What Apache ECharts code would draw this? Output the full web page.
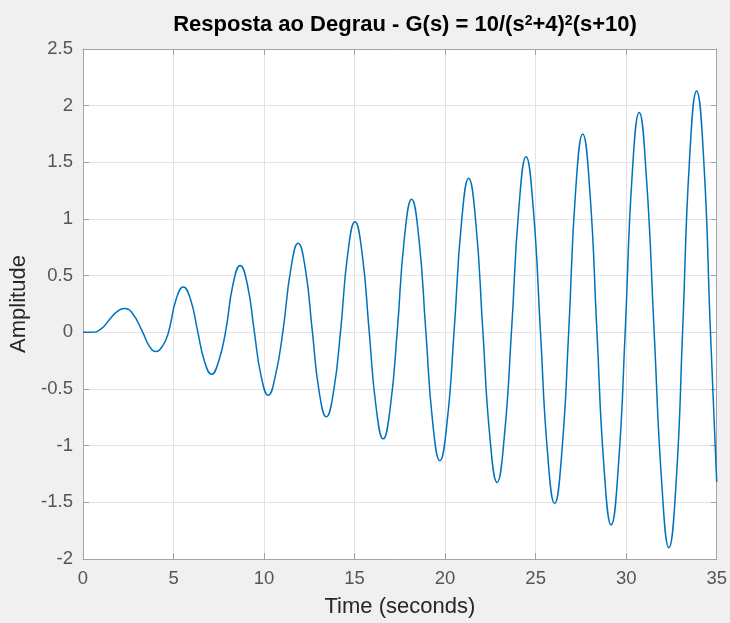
<!DOCTYPE html>
<html lang="pt">
<head>
    <meta charset="UTF-8">
    <title>Resposta ao Degrau</title>
    <style>
        html, body {
            margin: 0;
            height: 100%;
            background: #f0f0f0;
        }
        #main {
            width: 730px;
            height: 623px;
        }
    </style>
    <script src="https://cdn.jsdelivr.net/npm/echarts@6/dist/echarts.min.js"></script>
</head>
<body>
    <div id="main"></div>
    <script>
        // tempo (s) e amplitude: picos, vales, flancos e cruzamentos
        const tempo = [
            0, 0.5, 1.0, 1.5, 1.9, 2.29, 2.7, 3.3, 3.62, 4.0, 4.4, 4.72,
            5.14, 5.54, 5.94, 6.32, 6.7, 7.1, 7.5, 7.89,
            8.28, 8.68, 9.08, 9.45, 9.83, 10.23, 10.63, 11.05,
            11.48, 11.88, 12.28, 12.66, 13.04, 13.44, 13.84, 14.23,
            14.62, 15.02, 15.42, 15.8, 16.18, 16.58, 16.98, 17.36,
            17.75, 18.15, 18.55, 18.93, 19.31, 19.71, 20.11, 20.5,
            20.9, 21.3, 21.7, 22.08, 22.47, 22.87, 23.27, 23.67,
            24.07, 24.47, 24.87, 25.26, 25.65, 26.05, 26.45, 26.83,
            27.2, 27.6, 28.0, 28.38, 28.77, 29.17, 29.57, 29.95,
            30.32, 30.72, 31.12, 31.54, 31.96, 32.36, 32.76, 33.12,
            33.49, 33.89, 34.29, 34.65, 35
        ]
        const amplitude = [
            0, 0.001, 0.03, 0.12, 0.185, 0.21, 0.175, 0, -0.11, -0.17, -0.12, 0,
            0.29, 0.40, 0.29, 0.02, -0.25, -0.37, -0.25, 0.02,
            0.42, 0.59, 0.42, 0.02, -0.38, -0.555, -0.38, 0.02,
            0.56, 0.785, 0.56, 0.02, -0.52, -0.745, -0.52, 0.02,
            0.69, 0.976, 0.69, 0.02, -0.65, -0.94, -0.65, 0.02,
            0.83, 1.174, 0.83, 0.02, -0.79, -1.133, -0.79, 0.02,
            0.96, 1.36, 0.96, 0.02, -0.92, -1.324, -0.92, 0.02,
            1.09, 1.55, 1.09, 0.02, -1.05, -1.51, -1.05, 0.02,
            1.23, 1.75, 1.23, 0.02, -1.18, -1.70, -1.18, 0.02,
            1.36, 1.94, 1.36, 0.02, -1.32, -1.90, -1.32, 0.02,
            1.50, 2.13, 1.50, 0.02, -1.32
        ]

        const xTicks = { min: 0, max: 35, interval: 5 }
        const yTicks = { min: -2, max: 2.5, interval: 0.5 }

        const chart = echarts.init(document.getElementById('main'))
        const font = 'Liberation Sans'
        const frame = '#a3a3a3'

        function frameAxis (ticks, pos, showLabel) {
            return {
                type: 'value',
                position: pos,
                min: ticks.min,
                max: ticks.max,
                interval: ticks.interval,
                axisLine: { show: true, onZero: false, lineStyle: { color: frame, width: 1 } },
                axisTick: { show: true, inside: true, length: 6, lineStyle: { color: frame } },
                axisLabel: { show: showLabel, color: '#555', fontSize: 18.5, fontFamily: font },
                splitLine: { show: showLabel, lineStyle: { color: '#e3e3e3', width: 1 } }
            }
        }

        const xBottom = frameAxis(xTicks, 'bottom', true)
        xBottom.name = 'Time (seconds)'
        xBottom.nameLocation = 'middle'
        xBottom.nameGap = 37
        xBottom.nameTextStyle = { color: '#262626', fontSize: 22, fontFamily: font }
        xBottom.axisLabel.margin = 10

        const yLeft = frameAxis(yTicks, 'left', true)
        yLeft.name = 'Amplitude'
        yLeft.nameLocation = 'middle'
        yLeft.nameGap = 50
        yLeft.nameTextStyle = { color: '#262626', fontSize: 22, fontFamily: font }
        yLeft.axisLabel.margin = 10

        chart.setOption({
            backgroundColor: '#f0f0f0',
            animation: false,
            title: {
                text: '{t|Resposta ao Degrau - G(s) = 10/(s}{s|2}{t|+4)}{s|2}{t|(s+10)}',
                left: 400,
                textAlign: 'center',
                top: 9,
                textStyle: {
                    rich: {
                        t: { fontSize: 22, fontWeight: 'bold', color: '#000', fontFamily: font },
                        s: { fontSize: 14, fontWeight: 'bold', color: '#000', fontFamily: font, verticalAlign: 'top', padding: [0, 0, 8, 0] }
                    }
                }
            },
            grid: {
                left: 83,
                right: 12,
                top: 49,
                bottom: 64,
                show: true,
                backgroundColor: '#fff',
                borderWidth: 0
            },
            xAxis: [xBottom, frameAxis(xTicks, 'top', false)],
            yAxis: [yLeft, frameAxis(yTicks, 'right', false)],
            series: [{
                type: 'line',
                data: tempo.map((t, i) => [t, amplitude[i]]),
                smooth: 0.5,
                showSymbol: false,
                lineStyle: { color: '#0072bd', width: 1.5 },
                silent: true
            }]
        })
    </script>
</body>
</html>
